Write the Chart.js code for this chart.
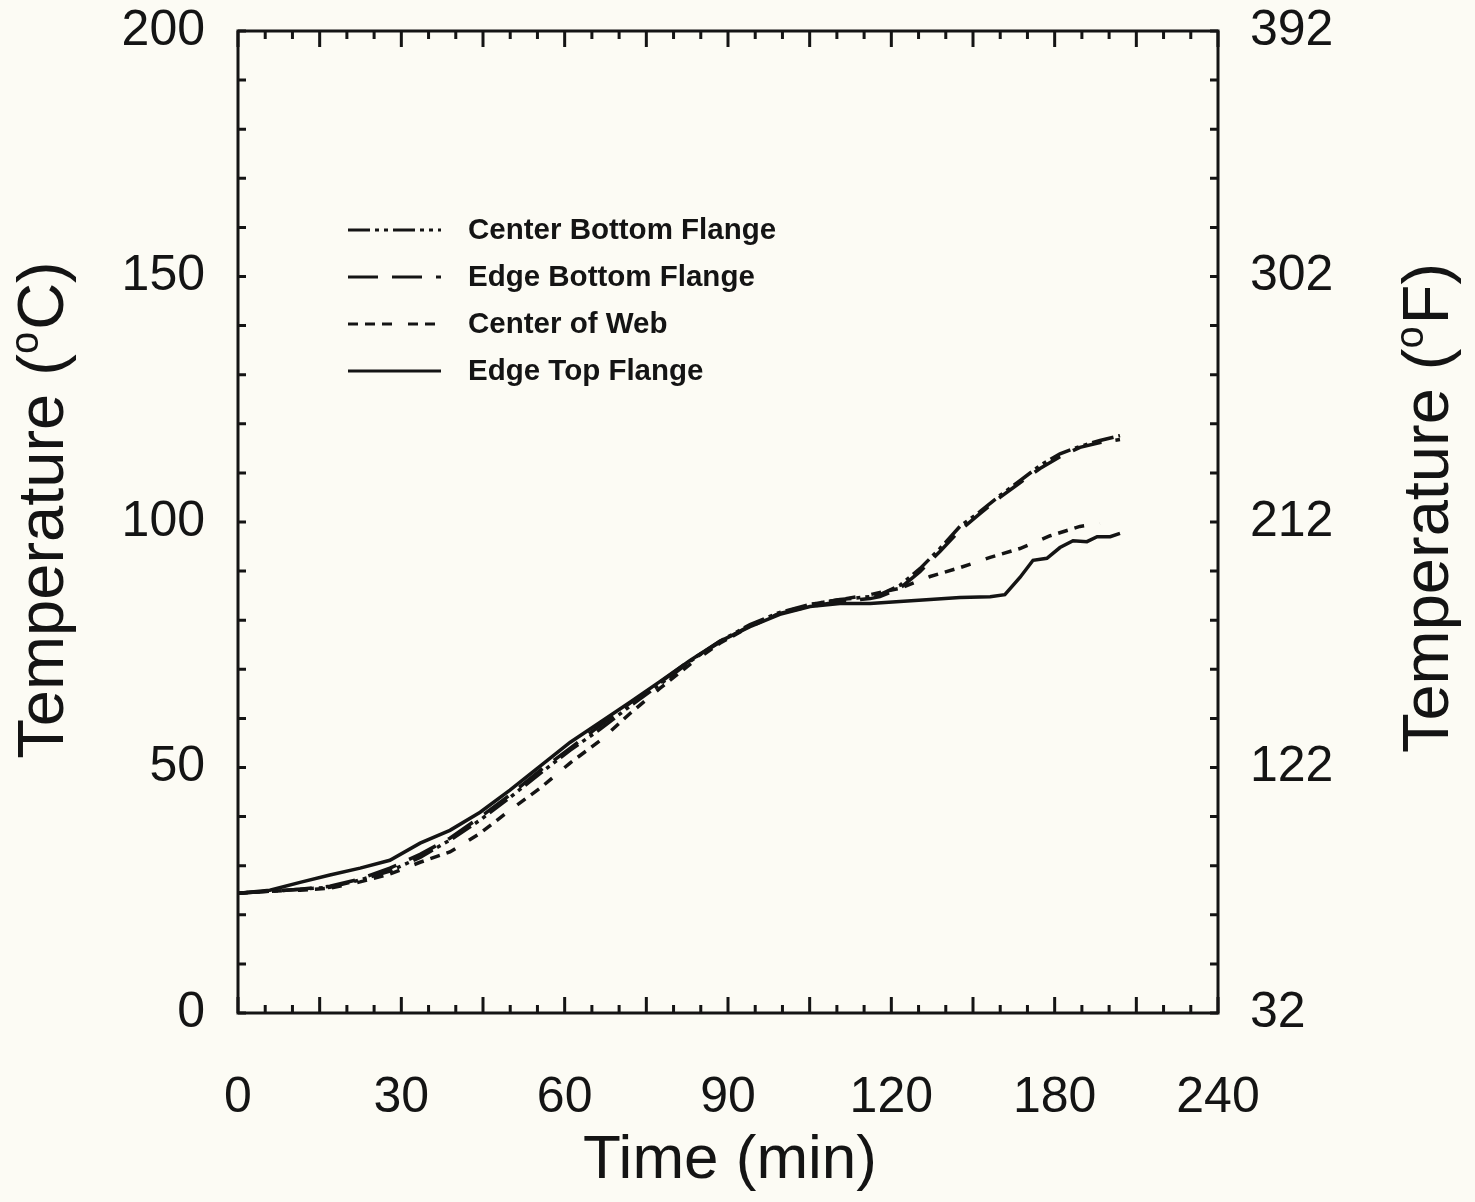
<!DOCTYPE html>
<html>
<head>
<meta charset="utf-8">
<script src="https://cdn.jsdelivr.net/npm/chart.js@4.4.0/dist/chart.umd.min.js"></script>
<style>
  html, body { margin: 0; padding: 0; background: #fcfbf4; }
  canvas { display: block; }
</style>
</head>
<body>
<canvas id="chart" width="1475" height="1202"></canvas>
<script>
// Beam temperatures during fire test

// x axis tick labels as printed (evenly spaced along the axis)
const xTickLabels = ['0', '30', '60', '90', '120', '180', '240'];

// time samples shared by all four curves up to the split
const baseTimes = [0, 7.8, 15.2, 22.5, 29.9, 37.2, 44.6, 51.9, 59.3, 66.6, 74.0,
  81.3, 88.7, 96.0, 103.3, 110.7, 118.0, 125.4, 132.7, 140.1, 147.4, 154.8];

const topFlangeTimesEnd = [162.1, 169.5, 176.8, 184.2, 187.8, 191.5, 194.7, 198.1,
  201.3, 204.5, 207.9, 210.4, 213.6, 216.0];
const bottomFlangeTimesEnd = [157.2, 162.1, 167.0, 171.9, 176.8, 181.7, 186.6,
  191.5, 196.4, 201.3, 206.2, 211.1, 216.0];
const webTimesEnd = [162.1, 169.5, 176.8, 184.2, 191.5, 198.9, 206.2, 211.1];

const centerBottomFlange = [24.4, 24.8, 25.2, 25.6, 27.1, 28.9, 31.7, 35.2, 39.3,
  43.9, 48.8, 53.5, 57.8, 62.5, 66.9, 71.6, 75.7, 79.1, 81.6, 83.2, 84.2, 84.8,
  85.2, 87.1, 90.5, 94.6, 99.1, 102.1, 105.4, 108.4, 111.5, 113.9, 115.4, 116.6, 117.6];
const edgeBottomFlange = [24.4, 24.8, 25.2, 25.8, 27.3, 29.5, 32.3, 35.6, 39.9,
  44.4, 49.4, 53.9, 58.6, 63.1, 67.3, 71.8, 75.5, 78.9, 81.4, 82.8, 83.8, 84.4,
  84.8, 86.5, 89.9, 94.0, 98.3, 101.7, 105.0, 108.0, 110.9, 113.3, 115.2, 116.2, 116.8];
const centerOfWeb = [24.4, 24.8, 25.0, 25.4, 26.7, 28.3, 30.7, 32.8, 36.6, 41.3,
  45.8, 50.9, 55.5, 61.0, 66.1, 71.0, 75.3, 78.7, 81.4, 83.2, 84.2, 85.2,
  86.5, 88.9, 90.7, 92.8, 94.6, 97.2, 99.1, 99.7];
const edgeTopFlange = [24.4, 25.0, 26.6, 28.1, 29.5, 31.1, 34.6, 37.2, 40.9, 45.4,
  50.3, 55.1, 59.2, 63.3, 67.5, 71.8, 75.7, 78.7, 81.2, 82.8, 83.4, 83.4,
  83.8, 84.2, 84.6, 84.8, 85.2, 88.7, 92.2, 92.6, 94.8, 96.2, 96.0, 97.0, 97.0, 97.7];

const FONT = '"Liberation Sans", Arial, Helvetica, sans-serif';
const INK = '#141414';

function pts(times, temps) {
  return temps.map((t, i) => ({ x: times[i], y: t }));
}

function line(label, times, temps, dash) {
  return {
    label: label,
    data: pts(times, temps),
    borderColor: INK,
    borderWidth: 3.5,
    borderDash: dash,
    pointRadius: 0,
    fill: false,
    tension: 0
  };
}

const datasets = [
  line('Center Bottom Flange', baseTimes.concat(bottomFlangeTimesEnd), centerBottomFlange, [22, 5, 4, 5, 4, 5]),
  line('Edge Bottom Flange', baseTimes.concat(bottomFlangeTimesEnd), edgeBottomFlange, [30, 14]),
  line('Center of Web', baseTimes.concat(webTimesEnd), centerOfWeb, [10, 7, 10, 7, 10, 16]),
  line('Edge Top Flange', baseTimes.concat(topFlangeTimesEnd), edgeTopFlange, [])
];

// background, frame with inward ticks, axis titles and in-plot legend
const decor = {
  id: 'decor',
  beforeDraw(chart) {
    const ctx = chart.ctx;
    ctx.save();
    ctx.fillStyle = '#fcfbf4';
    ctx.fillRect(0, 0, chart.width, chart.height);
    ctx.restore();
  },
  afterDatasetsDraw(chart) {
    const ctx = chart.ctx;
    const a = chart.chartArea;
    const xs = chart.scales.x, ys = chart.scales.y;
    ctx.save();
    ctx.strokeStyle = INK;
    ctx.lineWidth = 3;
    ctx.strokeRect(a.left, a.top, a.right - a.left, a.bottom - a.top);
    ctx.beginPath();
    // time axis: major every 20, two minor between
    for (let k = 0; k <= 36; k++) {
      const px = xs.getPixelForValue(k * 20 / 3);
      const len = k % 3 === 0 ? 16 : 8;
      ctx.moveTo(px, a.bottom); ctx.lineTo(px, a.bottom - len);
      ctx.moveTo(px, a.top); ctx.lineTo(px, a.top + len);
    }
    // temperature: every 10 C on both sides
    for (let v = 0; v <= 200; v += 10) {
      const py = ys.getPixelForValue(v);
      ctx.moveTo(a.left, py); ctx.lineTo(a.left + 8, py);
      ctx.moveTo(a.right, py); ctx.lineTo(a.right - 8, py);
    }
    ctx.stroke();
    ctx.restore();
  },
  afterDraw(chart) {
    const ctx = chart.ctx;
    const a = chart.chartArea;
    ctx.save();
    ctx.fillStyle = INK;

    // rotated temperature titles with superscript o
    const vTitle = (cx, cy, unit) => {
      ctx.save();
      ctx.translate(cx, cy);
      ctx.rotate(-Math.PI / 2);
      ctx.textBaseline = 'alphabetic';
      ctx.textAlign = 'left';
      const big = '65px ' + FONT, small = '40px ' + FONT;
      ctx.font = big;
      const w1 = ctx.measureText('Temperature (').width;
      const w3 = ctx.measureText(unit + ')').width;
      ctx.font = small;
      const w2 = ctx.measureText('o').width + 2;
      let x = -(w1 + w2 + w3) / 2;
      const base = 23;
      ctx.font = big; ctx.fillText('Temperature (', x, base); x += w1;
      ctx.font = small; ctx.fillText('o', x, base - 25); x += w2;
      ctx.font = big; ctx.fillText(unit + ')', x, base);
      ctx.restore();
    };
    vTitle(40, 510, 'C');
    vTitle(1425, 508, 'F');

    ctx.font = '62px ' + FONT;
    ctx.textAlign = 'center';
    ctx.textBaseline = 'alphabetic';
    ctx.fillText('Time (min)', 730, 1178);

    // legend
    ctx.font = 'bold 29.5px ' + FONT;
    ctx.textAlign = 'left';
    ctx.textBaseline = 'middle';
    ctx.strokeStyle = INK;
    ctx.lineWidth = 3;
    chart.data.datasets.forEach((ds, i) => {
      const y = a.top + 199 + i * 47;
      ctx.setLineDash(ds.borderDash);
      ctx.beginPath();
      ctx.moveTo(a.left + 110, y);
      ctx.lineTo(a.left + 203, y);
      ctx.stroke();
      ctx.setLineDash([]);
      ctx.fillText(ds.label, a.left + 230, y + 1);
    });
    ctx.restore();
  }
};

const tickFont = { family: FONT, size: 50 };

function noPad(s) {
  s.paddingTop = 0; s.paddingBottom = 0; s.paddingLeft = 0; s.paddingRight = 0;
}

new Chart(document.getElementById('chart'), {
  type: 'line',
  data: { datasets: datasets },
  options: {
    responsive: false,
    animation: false,
    devicePixelRatio: 1,
    layout: { padding: { top: 31, left: 0, right: 0, bottom: 0 } },
    plugins: { legend: { display: false }, tooltip: { enabled: false } },
    scales: {
      x: {
        type: 'linear',
        min: 0, max: 240,
        grid: { display: false, drawTicks: false },
        border: { display: false },
        ticks: {
          stepSize: 40,
          autoSkip: false,
          maxRotation: 0,
          padding: 55,
          color: INK,
          font: tickFont,
          callback: v => xTickLabels[Math.round(v / 40)]
        },
        afterFit(s) { s.height = 189; noPad(s); }
      },
      y: {
        position: 'left',
        min: 0, max: 200,
        grid: { display: false, drawTicks: false },
        border: { display: false },
        ticks: { stepSize: 50, padding: 33, color: INK, font: tickFont },
        afterFit(s) { s.width = 238; noPad(s); }
      },
      y1: {
        position: 'right',
        min: 32, max: 392,
        grid: { display: false, drawTicks: false },
        border: { display: false },
        ticks: { stepSize: 90, padding: 32, color: INK, font: tickFont },
        afterFit(s) { s.width = 257; noPad(s); }
      }
    }
  },
  plugins: [decor]
});
</script>
</body>
</html>
